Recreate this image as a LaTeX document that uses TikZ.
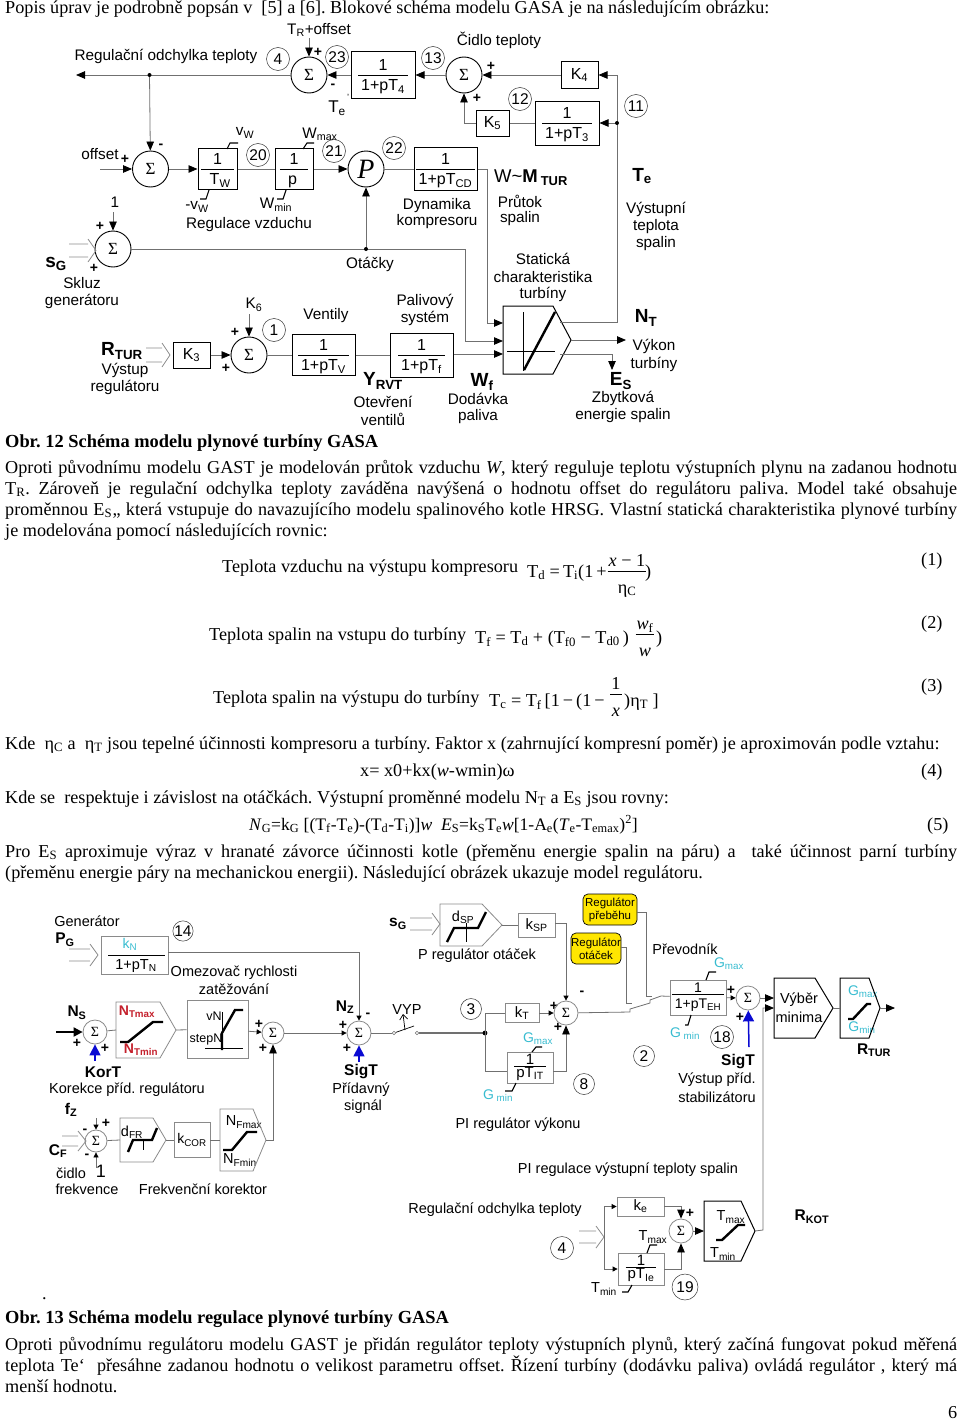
\documentclass[tikz,border=0pt]{standalone}
\usepackage{fontspec}
\setmainfont{Liberation Serif}
\setsansfont{Liberation Sans}
\usepackage{xcolor}
\usetikzlibrary{arrows.meta, positioning, calc}
\definecolor{wirecol}{HTML}{707070}
\definecolor{edgecol}{HTML}{8A8A8A}
\definecolor{cyanlab}{HTML}{38BCD0}
\definecolor{redlab}{HTML}{C4202C}
\definecolor{bluearr}{HTML}{0A0AD2}
\definecolor{yellowbg}{HTML}{FFE600}
\newcommand{\sbs}[1]{\textsubscript{#1}}
\newcommand{\frc}[2]{\begin{tabular}{@{\hspace{3pt}}c@{\hspace{3pt}}}\rule{0pt}{15.5pt}#1\\\hline\rule{0pt}{15.5pt}#2\end{tabular}}
\newcommand{\gfrc}[2]{\begin{tabular}{@{\hspace{3pt}}c@{\hspace{3pt}}}#1\\[-3pt]\hline\rule{0pt}{14pt}#2\end{tabular}}
\newcommand{\tfrc}[2]{\begin{tabular}{@{\hspace{2pt}}c@{\hspace{2pt}}}#1\\[-3pt]\hline\rule{0pt}{11pt}#2\end{tabular}}
\newcommand{\efrc}[2]{\begin{tabular}{@{\hspace{1pt}}c@{\hspace{1pt}}}#1\\[-2pt]\hline\rule{0pt}{22pt}#2\end{tabular}}
\newcommand{\openarr}[4]{\draw[oarr] (#1,#3) -- (#2,#3) (#1,#4) -- (#2,#4) (#2,#3-5) -- (#2+8,{(#3+#4)/2}) -- (#2,#4+5);}
\newcommand{\penta}[7]{\draw[#7] (#2,#5) -- (#3,#5) -- (#4,#6) -- (#3,2*#6-#5) -- (#2,2*#6-#5) -- cycle;
  \coordinate (#1w) at (#2,#6); \coordinate (#1e) at (#4,#6);}
\tikzstyle{conn}=[wirecol,line width=0.8pt]
\tikzstyle{arr}=[-{Stealth[inset=0pt,length=9pt,width=7.5pt,color=black]},wirecol,line width=0.8pt]
\tikzstyle{arrs}=[-{Stealth[inset=0pt,length=5pt,width=5pt,color=black]},wirecol,line width=0.8pt]
\tikzstyle{barr}=[-{Stealth[inset=0pt,length=11pt,width=11pt]},bluearr,line width=1.5pt]
\tikzstyle{oarr}=[edgecol,line width=0.8pt]
\tikzstyle{sat}=[black,line width=1.1pt]
\tikzstyle{thickln}=[black,line width=2.4pt]
\tikzstyle{sumnode}=[circle,draw=black,line width=0.9pt,minimum size=36pt,inner sep=0pt,font=\fontsize{17}{17}\selectfont]
\tikzstyle{sumsmall}=[circle,draw=edgecol,line width=0.8pt,minimum size=24pt,inner sep=0pt,font=\fontsize{14}{14}\selectfont]
\tikzstyle{numcirc}=[circle,draw=black!80,line width=0.5pt,minimum size=23pt,inner sep=0pt,font=\sffamily\fontsize{15.5}{16}\selectfont]
\tikzstyle{blk}=[draw=black,line width=1pt,inner sep=0pt,font=\sffamily\fontsize{16}{16}\selectfont]
\tikzstyle{blkg}=[draw=edgecol,line width=0.8pt,inner sep=0pt,font=\sffamily\fontsize{15}{16}\selectfont]
\tikzstyle{lab}=[inner sep=0pt,yshift=-1pt,font=\sffamily\fontsize{14.5}{16}\selectfont]
\tikzstyle{labu}=[inner sep=0pt,yshift=-1pt,font=\sffamily\fontsize{15.3}{16}\selectfont]
\tikzstyle{labs}=[inner sep=0pt,font=\sffamily\fontsize{12.5}{14}\selectfont]
\tikzstyle{boldlab}=[inner sep=0pt,font=\sffamily\bfseries\fontsize{19}{20}\selectfont]
\tikzstyle{boldlow}=[inner sep=0pt,font=\sffamily\bfseries\fontsize{15.5}{18}\selectfont]
\tikzstyle{cyanl}=[inner sep=0pt,text=cyanlab,font=\sffamily\fontsize{14}{16}\selectfont]
\tikzstyle{redl}=[inner sep=0pt,text=redlab,font=\sffamily\bfseries\fontsize{14}{16}\selectfont]
\tikzstyle{sgn}=[inner sep=0pt,font=\sffamily\bfseries\fontsize{14}{14}\selectfont]
\tikzstyle{regbox}=[draw=black,line width=0.7pt,fill=yellowbg,rounded corners=5pt,inner sep=0pt,align=center,font=\sffamily\fontsize{11.5}{13}\selectfont]
\tikzstyle{bodyln}=[anchor=base west,inner sep=0pt,font=\fontsize{18.2}{20}\selectfont]
\tikzstyle{capln}=[anchor=base west,inner sep=0pt,font=\bfseries\fontsize{18.4}{20}\selectfont]
\tikzstyle{eqfr}=[inner sep=0pt,font=\fontsize{18.2}{20}\selectfont]
\begin{document}
\frenchspacing
\begin{tikzpicture}[x=1pt,y=-1pt]
  \useasboundingbox (0,0) rectangle (960,1421);
  \foreach \nm/\x/\y/\t in {
    a/5/14/{Popis úprav je podrobně popsán v\ \ [5] a [6]. Blokové schéma modelu GASA je na následujícím obrázku:},
    b/222/572/{Teplota vzduchu na výstupu kompresoru},
    c/209/640/{Teplota spalin na vstupu do turbíny},
    d/213/703/{Teplota spalin na výstupu do turbíny},
    e/5/749/{Kde\ \ η\sbs{C} a\ \ η\sbs{T} jsou tepelné účinnosti kompresoru a turbíny. Faktor x (zahrnující kompresní poměr) je aproximován podle vztahu:},
    f/360/776/{x= x0+kx(\textit{w}-wmin)ω},
    g/5/803/{Kde se\ \ respektuje i závislost na otáčkách. Výstupní proměnné modelu N\sbs{T} a E\sbs{S} jsou rovny:},
    h/249/830/{\fontsize{17.6}{20}\selectfont\textit{N}\sbs{G}=k\sbs{G} [(T\sbs{f}-T\sbs{e})-(T\sbs{d}-T\sbs{i})]\textit{w}\ \ \textit{E}\sbs{S}=k\sbs{S}T\sbs{e}\textit{w}[1-A\sbs{e}(\textit{T}\sbs{e}-T\sbs{emax})\textsuperscript{2}]},
    i/5/878/{(přeměnu energie páry na mechanickou energii). Následující obrázek ukazuje model regulátoru.},
    j/5/1392/{menší hodnotu.},
    k/921/565/{(1)},
    l/921/628/{(2)},
    m/921/691/{(3)},
    n/921/776/{(4)},
    o/927/830/{(5)},
    p/948/1418/{6},
    q/42/1299/{.},
    eqa/527/577/{T\sbs{d}\ =\,T\sbs{i}(1\,+},
    eqb/645/577/{)},
    eqc/475/643/{T\sbs{f}\ =\ T\sbs{d}\ +\ (T\sbs{f0}\ −\ T\sbs{d0}\,)},
    eqd/656/643/{)},
    eqe/489/706/{T\sbs{c}\ =\ T\sbs{f}\,[1\,−\,(1\,−},
    eqf/624/706/{)η\sbs{T} ]}} {
    \node[bodyln] (txt\nm) at (\x,\y) {\t};
  }
  \foreach \nm/\y/\t in {
    a/473/{Oproti původnímu modelu GAST je modelován průtok vzduchu \textit{W}, který reguluje teplotu výstupních plynu na zadanou hodnotu},
    b/494/{T\sbs{R}. Zároveň je regulační odchylka teploty zaváděna navýšená o hodnotu offset do regulátoru paliva. Model také obsahuje},
    c/515/{proměnnou E\sbs{S}\hspace{0.5pt},, která vstupuje do navazujícího modelu spalinového kotle HRSG. Vlastní statická charakteristika plynové turbíny},
    d/857/{Pro E\sbs{S} aproximuje výraz v hranaté závorce účinnosti kotle (přeměnu energie spalin na páru) a\ \ také účinnost parní turbíny},
    e/1350/{Oproti původnímu regulátoru modelu GAST je přidán regulátor teploty výstupních plynů, který začíná fungovat pokud měřená},
    f/1371/{teplota Te‘\ \ přesáhne zadanou hodnotu o velikost parametru offset. Řízení turbíny (dodávku paliva) ovládá regulátor , který má}} {
    \node[bodyln] (par\nm) at (5,\y) {\makebox[952pt][s]{\t}};
  }
  \node[bodyln] (parg) at (5,536) {je modelována pomocí následujících rovnic:};
  \node[capln] (capa) at (5,447) {Obr. 12 Schéma modelu plynové turbíny GASA};
  \node[capln] (capb) at (5,1323) {Obr. 13 Schéma modelu regulace plynové turbíny GASA};
  \node[eqfr] (fra) at (627,576) {\efrc{\textit{x} − 1}{η\sbs{C}}};
  \node[eqfr] (frb) at (645,639) {\efrc{\textit{w}\sbs{f}}{\textit{w}}};
  \node[eqfr] (frc) at (616,699) {\efrc{1}{\textit{x}}};

  \node[sumnode] (s23) at (309,75) {Σ};
  \node[blk,minimum width=64pt,minimum height=46pt] (t4) at (383,75) {\frc{1}{1+pT\sbs{4}}};
  \node[sumnode] (s13) at (464,75) {Σ};
  \node[blk,minimum width=37pt,minimum height=27pt] (k4) at (579.5,75) {K\sbs{4}};
  \node[blk,minimum width=64pt,minimum height=44pt] (t3) at (567,123) {\frc{1}{1+pT\sbs{3}}};
  \node[blk,minimum width=33pt,minimum height=26pt] (k5) at (492.5,123) {K\sbs{5}};
  \node[sumnode] (soff) at (150.5,169) {Σ};
  \node[blk,minimum width=39pt,minimum height=41pt] (tw) at (217.5,169) {\frc{1}{\,\,T\sbs{W}}};
  \node[blk,minimum width=38pt,minimum height=41pt] (bp) at (294,169) {\frc{1}{\,\,p\,\,\,}};
  \node[circle,draw=black,line width=0.9pt,minimum size=36pt,inner sep=0pt,font=\itshape\fontsize{28}{28}\selectfont] (pp) at (366,169) {P};
  \node[blk,minimum width=63pt,minimum height=43pt] (tcd) at (445.5,169) {\frc{1}{1+pT\sbs{CD}}};
  \node[sumnode] (ssk) at (113,249) {Σ};
  \node[blk,minimum width=37pt,minimum height=26pt] (k3) at (191.5,355) {K\sbs{3}};
  \node[sumnode] (sk6) at (249,355) {Σ};
  \node[blk,minimum width=63pt,minimum height=41pt] (tv) at (323.5,355) {\frc{1}{1+pT\sbs{V}}};
  \node[blk,minimum width=63pt,minimum height=44pt] (tf) at (421.5,355) {\frc{1}{1+pT\sbs{f}}};
  \penta{tur}{503}{553}{571}{306}{340}{black,line width=1pt}
  \draw[black,line width=0.8pt] (523,312) -- (523,371) (507,351) -- (555,351);
  \draw[thickln] (524,370) -- (555,312);

  \coordinate (topout) at (76,75);
  \coordinate (dottop) at (149.5,75);
  \coordinate (dotte) at (617,123);
  \coordinate (tee) at (617,75);
  \coordinate (turte) at (560,322);
  \coordinate (turin) at (503,323);
  \coordinate (turn) at (503,341);
  \coordinate (turf) at (503,354);
  \coordinate (dotn) at (366,249);
  \coordinate (tures) at (560,354);
  \coordinate (eses) at (612,370);
  \coordinate (ntout) at (626,340);
  \coordinate (trin) at (309,38);
  \coordinate (offin) at (100,169);
  \coordinate (onein) at (113,212);
  \coordinate (k6in) at (249,314);
  \draw[arr] (s23) -- (topout);
  \draw[arr] (t4) -- (s23);
  \draw[arr] (s13) -- (t4);
  \draw[arr] (k4) -- (s13);
  \draw[arr] (trin) -- (s23);
  \draw[arr] (dottop) -- (soff);
  \fill (dottop) circle (2pt);
  \draw[arr] (offin) -- (soff);
  \draw[arr] (soff) -- (tw);
  \draw[conn] (tw) -- (bp);
  \draw[arr] (bp) -- (pp);
  \draw[conn] (pp) -- (tcd);
  \draw[arr] (turte) -| (tee) -- (k4);
  \draw[arr] (dotte) -- (t3);
  \fill (dotte) circle (2pt);
  \draw[conn] (t3) -- (k5);
  \draw[arr] (k5) -| (s13);
  \draw[arr] (tcd) -| (487,323) -- (turin);
  \draw[arr] (ssk) -| (465,341) -- (turn);
  \draw[arr] (dotn) -- (pp);
  \fill (dotn) circle (2pt);
  \draw[arr] (onein) -- (ssk);
  \draw[arr] (k3) -- (sk6);
  \draw[arr] (k6in) -- (sk6);
  \draw[conn] (sk6) -- (tv);
  \draw[conn] (tv) -- (tf);
  \draw[arr] (tf.east |- turf) -- (turf);
  \draw[arr] (ture) -- (ntout);
  \draw[arr] (tures) -| (eses);
  \openarr{69}{88}{244}{257}
  \openarr{146}{162}{348}{362}
  \draw[sat] (227,149) -- (230,143) -- (238,143);
  \draw[sat] (200,199) -- (206,199) -- (209,190);
  \draw[sat] (303,149) -- (307,143) -- (314,143);
  \draw[sat] (277,199) -- (283,199) -- (286,190);

  \foreach \nm/\x/\y in {4/278/59,23/337/57,13/433/58,12/520/99,11/636/106,20/258/155,21/334/151,22/394/148,1/274/330} {
    \node[numcirc] (c\nm) at (\x,\y) {\nm};
  }
  \foreach \nm/\x/\y/\t in {
    tr/319/29/T\sbs{R}+offset,
    reg/166/55/Regulační odchylka teploty,
    cid/499/39/Čidlo teploty,
    off/100/153/offset,
    one/115/201/1,
    vwm/197/206/-v\sbs{W},
    vw/245/132/v\sbs{W},
    wmax/320/133/W\sbs{max},
    wmin/276/204/W\sbs{min},
    rv/249/224/Regulace vzduchu,
    sk/82/282/Skluz,
    gen/82/300/generátoru,
    ota/370/263/Otáčky,
    dyn/437/205/Dynamika,
    kom/437/221/kompresoru,
    pru/520/200/Průtok,
    spa/520/218/spalin,
    vys/656/208/Výstupní,
    tep/656/226/teplota,
    spb/656/243/spalin,
    sta/543/258/Statická,
    cha/543/276/charakteristika,
    turb/543/293/turbíny,
    ksix/254/304/K\sbs{6},
    ven/326/315/Ventily,
    pal/425/300/Palivový,
    sys/425/317/systém,
    vyst/125/369/Výstup,
    rgl/125/386/regulátoru,
    ote/383/401/Otevření,
    vnt/383/418/ventilů,
    dod/478/398/Dodávka,
    pav/478/416/paliva,
    zby/623/397/Zbytková,
    ene/623/415/energie spalin,
    vyk/654/345/Výkon,
    tuc/654/363/turbíny} {
    \node[labu] (lab\nm) at (\x,\y) {\t};
  }
  \foreach \nm/\x/\y/\t in {
    gnt/87/920/Generátor,
    ome/234/972/Omezovač rychlosti,
    zat/234/988/zatěžování,
    kore/127/1089/Korekce příd. regulátoru,
    pri/361/1089/Přídavný,
    sig/363/1106/signál,
    cdl/71/1172/čidlo,
    fre/87/1188/frekvence,
    fko/203/1188/Frekvenční korektor,
    preg/477/955/P regulátor otáček,
    pi/518/1124/PI regulátor výkonu,
    pis/628/1169/PI regulace výstupní teploty spalin,
    prv/685/948/Převodník,
    vyp/717/1079/Výstup příd.,
    stb/717/1096/stabilizátoru,
    vyb/799/999/Výběr,
    mnm/799/1016/minima,
    rod/495/1209/Regulační odchylka teploty,
    kvyp/407/1008/VYP,
    nfa/244/1121/N\sbs{Fmax},
    nfb/240/1159/N\sbs{Fmin},
    dfr/132/1131/d\sbs{FR},
    dsp/463/916/d\sbs{SP},
    tma/653/1236/T\sbs{max},
    tmb/604/1288/T\sbs{min},
    tmc/731/1216/T\sbs{max},
    tmd/723/1253/T\sbs{min}} {
    \node[lab] (lab\nm) at (\x,\y) {\t};
  }
  \node[labs] (labvn) at (214,1016) {vN};
  \node[labs] (labstp) at (206,1039) {stepN};
  \node[lab,font=\sffamily\fontsize{18}{18}\selectfont] (labone) at (101,1170) {1};
  \node[lab,font=\sffamily\fontsize{17}{18}\selectfont] (labte) at (337,107) {T\sbs{e}};
  \node[lab,font=\sffamily\fontsize{9}{9}\selectfont] (labtq) at (348,96) {'};
  \foreach \nm/\x/\y/\t in {
    sg/56/264/s\sbs{G},
    rtur/122/351/R\sbs{TUR},
    yrvt/383/381/Y\sbs{RVT},
    wf/482/382/W\sbs{f},
    es/621/381/E\sbs{S},
    nt/646/318/N\sbs{T},
    te/642/176/T\sbs{e}} {
    \node[boldlab] (bl\nm) at (\x,\y) {\t};
  }
  \foreach \nm/\x/\y/\t in {
    pg/65/940/P\sbs{G},
    ns/77/1013/N\sbs{S},
    kort/103/1072/KorT,
    fz/71/1110/f\sbs{Z},
    cf/58/1151/C\sbs{F},
    nz/345/1007/N\sbs{Z},
    sigt/361/1072/SigT,
    sgb/398/924/s\sbs{G},
    sigb/738/1062/SigT,
    rtb/874/1050/R\sbs{TUR},
    rkot/812/1217/R\sbs{KOT}} {
    \node[boldlow] (bl\nm) at (\x,\y) {\t};
  }
  \node[lab,font=\sffamily\fontsize{18.5}{18}\selectfont] (labmt) at (531,177) {W\textasciitilde\textbf{M}\,\textbf{\sbs{TUR}}};
  \foreach \nm/\x/\y/\t in {a/318/52/+,b/491/66/+,c/477/98/+,d/125/159/+,e/100/226/+,f/94/268/+,g/235/332/+,h/226/368/+,i/333/86/-,j/161/146/-,
    k/77/1043/+,l/105/1048/+,m/259/1024/+,n/263/1048/+,o/343/1025/+,p/347/1048/+,q/368/1015/-,r/106/1123/+,s/85/1131/-,t/87/1156/-,
    u/554/1006/+,v/558/1027/+,w/582/993/-,x/731/990/+,y/740/1017/+,z/690/1213/+} {
    \node[sgn] (sg\nm) at (\x,\y) {\t};
  }

  \node[blkg,minimum width=67pt,minimum height=38pt] (kn) at (134.5,955) {};
  \node[inner sep=0pt,text=cyanlab,font=\sffamily\fontsize{14}{16}\selectfont] (knup) at (130,944) {k\sbs{N}};
  \node[inner sep=0pt,font=\sffamily\fontsize{14.5}{16}\selectfont] (kndn) at (136,966) {1+pT\sbs{N}};
  \draw[black,line width=0.6pt] (108,955) -- (165,955);
  \node[numcirc,minimum size=20pt] (c14) at (183,931) {14};
  \node[sumsmall] (sns) at (95,1032) {Σ};
  \penta{nts}{116}{160}{176}{1002}{1030}{edgecol,line width=0.8pt}
  \node[redl] (lntmax) at (137,1012) {N\sbs{Tmax}};
  \node[redl] (lntmin) at (141,1050) {N\sbs{Tmin}};
  \draw[thickln] (120,1042) -- (128,1042) -- (153,1022) -- (163,1022);
  \node[blkg,minimum width=61pt,minimum height=58pt] (rate) at (217.5,1029) {};
  \draw[black,line width=0.7pt] (205,1048) -- (243,1048) (222,1012) -- (222,1049);
  \draw[thickln] (222,1050) -- (222,1033) -- (235,1010) -- (243,1010);
  \node[sumsmall,minimum size=22pt] (s3) at (273,1033) {Σ};
  \node[sumsmall] (snz) at (359,1033) {Σ};
  \node[sumsmall,minimum size=22pt] (sfz) at (96,1141) {Σ};
  \penta{dfb}{120}{153}{166}{1118}{1140}{edgecol,line width=0.8pt}
  \draw[black,line width=0.7pt] (143,1140) -- (143,1150);
  \draw[thickln] (128,1152) -- (133,1140) -- (152,1140) -- (157,1128);
  \node[blkg,minimum width=36pt,minimum height=35pt,font=\sffamily\fontsize{14}{16}\selectfont] (kcor) at (192,1140) {k\sbs{COR}};
  \penta{nfb}{220}{253}{266}{1109}{1140}{edgecol,line width=0.8pt}
  \draw[thickln] (223,1150) -- (232,1150) -- (247,1132) -- (257,1132);
  \coordinate (knout) at (168,952);
  \coordinate (nsin) at (56,1032);
  \coordinate (ksigin) at (95,1061);
  \coordinate (szin) at (359,1062);
  \coordinate (fzin) at (96,1118);
  \coordinate (onefz) at (96,1168);
  \draw[arrs] (knout) -| (snz);
  \draw[-{Stealth[inset=0pt,length=9pt,width=9pt]},black,line width=2pt] (nsin) -- (sns);
  \draw[barr] (ksigin) -- (sns);
  \draw[barr] (szin) -- (snz);
  \draw[conn] (sns) -- (ntsw);
  \draw[conn] (ntse) -- (rate);
  \draw[arrs] (rate) -- (s3);
  \draw[arrs] (s3) -- (snz);
  \draw[arr] (nfbe) -| (s3);
  \draw[arrs] (fzin) -- (sfz);
  \draw[arrs] (onefz) -- (sfz);
  \draw[conn] (sfz) -- (dfbw);
  \draw[conn] (dfbe) -- (kcor);
  \draw[conn] (kcor) -- (nfbw);
  \openarr{69}{90}{949}{961}
  \openarr{62}{78}{1136}{1146}

  \coordinate (swa) at (394,1033);
  \coordinate (swb) at (417,1033);
  \node[circle,draw=wirecol,line width=0.5pt,minimum size=3.5pt,inner sep=0pt] (swl) at (swa) {};
  \node[circle,draw=wirecol,line width=0.5pt,minimum size=3.5pt,inner sep=0pt] (swr) at (swb) {};
  \coordinate (dotpi) at (485,1033);
  \draw[conn] (snz) -- (swl);
  \draw[black,line width=0.7pt] (swl) -- (414,1026);
  \draw[-{Straight Barb[length=5pt,width=8pt]},black,line width=0.7pt] (405,1030) -- (403,1014);
  \draw[wirecol,line width=1.2pt] (swr) -- (dotpi);
  \fill (dotpi) circle (2.4pt);
  \penta{dsp}{440}{482}{502}{904}{925}{edgecol,line width=0.8pt}
  \draw[black,line width=0.7pt] (466,923) -- (466,942);
  \draw[thickln] (447,942) -- (454,928) -- (478,928) -- (486,912);
  \node[blkg,minimum width=37pt,minimum height=24pt] (ksp) at (536.5,925) {k\sbs{SP}};
  \node[sumsmall] (sm) at (566,1013) {Σ};
  \node[blkg,minimum width=34pt,minimum height=19pt] (kt) at (522,1013) {k\sbs{T}};
  \node[blkg,minimum width=46pt,minimum height=31pt] (pit) at (530,1067.5) {\tfrc{1}{pT\sbs{IT}}};
  \node[regbox,minimum width=54pt,minimum height=31pt] (regpr) at (610,909.5) {Regulátor\\přeběhu};
  \node[regbox,minimum width=50pt,minimum height=31pt] (regot) at (596,948.5) {Regulátor\\otáček};
  \node[blkg,minimum width=56pt,minimum height=35pt,font=\sffamily\fontsize{14}{16}\selectfont] (teh) at (698,997.5) {\gfrc{1}{1+pT\sbs{EH}}};
  \node[sumsmall] (sf) at (748,998) {Σ};
  \coordinate (swc) at (630,1012);
  \coordinate (swd) at (630,1009);
  \coordinate (swe) at (650,1003);
  \coordinate (swf) at (650,1000);
  \coordinate (swg) at (661,996);
  \coordinate (kspout) at (555,923);
  \coordinate (prin) at (652,996);
  \coordinate (otin) at (632,1003);
  \coordinate (prrow) at (0,912);
  \coordinate (otrow) at (0,947);
  \coordinate (pirow) at (0,1071);
  \draw[conn] (dspe) -- (ksp);
  \draw[arrs] (kspout) -| (sm);
  \draw[conn] (sm) -- (swc) -- (swd) -- (swe) -- (swf) -- (swg) -- (teh);
  \draw[conn] (regpr.east |- prrow) -| (646,996) -- (prin);
  \draw[conn] (regot.east |- otrow) -| (626,1003) -- (otin);
  \draw[conn] (dotpi) |- (kt);
  \draw[arrs] (kt) -- (sm);
  \draw[conn] (dotpi) |- (pit.west |- pirow);
  \draw[arr] (pit.east |- pirow) -| (sm);
  \draw[arrs] (teh) -- (sf);
  \draw[barr] (749,1047) -- (sf);
  \openarr{410}{432}{918}{930}
  \draw[sat] (532,1052) -- (536,1047) -- (542,1047);
  \draw[sat] (505,1091) -- (512,1091) -- (516,1083);
  \draw[sat] (706,980) -- (709,972) -- (716,972);
  \draw[sat] (685,1025) -- (688,1025) -- (691,1015);
  \foreach \nm/\x/\y in {3/471/1009,8/584/1084,2/644/1056} {
    \node[numcirc,minimum size=21pt] (c\nm) at (\x,\y) {\nm};
  }
  \node[numcirc] (c18) at (722,1037) {18};
  \foreach \nm/\x/\y/\t in {a/538/1039/G\sbs{max},b/498/1096/G\sbs{ min},c/729/964/G\sbs{max},d/685/1034/G\sbs{ min},e/863/992/G\sbs{max},f/862/1028/G\sbs{min}} {
    \node[cyanl] (gl\nm) at (\x,\y) {\t};
  }

  \penta{vyb}{774}{815}{833}{978}{1008}{black,line width=1pt}
  \penta{lim}{840}{869}{880}{978}{1008}{black,line width=1pt}
  \draw[thickln] (848,1019) -- (853,1019) -- (867,1004) -- (871,1004);
  \coordinate (vybu) at (774,998);
  \coordinate (vybd) at (774,1008);
  \coordinate (limout) at (895,1008);
  \draw[arr] (sf) -- (vybu);
  \draw[conn] (vybe) -- (limw);
  \draw[arr] (lime) -- (limout);

  \node[blkg,minimum width=47pt,minimum height=19pt] (ke) at (640.5,1206.5) {k\sbs{e}};
  \node[blkg,minimum width=46pt,minimum height=32pt] (pte) at (641,1269) {\tfrc{1}{pT\sbs{Ie}}};
  \node[sumsmall] (sg4) at (681,1231) {Σ};
  \penta{tmx}{704}{741}{755}{1201}{1231}{black,line width=1pt}
  \draw[thickln] (716,1240) -- (722,1240) -- (738,1225) -- (745,1225);
  \node[numcirc] (c4b) at (562,1248) {4};
  \node[numcirc,minimum size=26pt] (c19) at (685,1287) {19};
  \coordinate (spl) at (604,1237);
  \openarr{579}{596}{1231}{1243}
  \draw[arrs] (spl) |- (ke);
  \draw[arrs] (spl) |- (pte);
  \draw[arr] (ke) -| (sg4);
  \draw[arr] (pte) -| (sg4);
  \draw[arr] (sg4) -- (tmxw);
  \draw[arr] (tmxe) -- (763,1230) |- (vybd);
  \draw[sat] (647,1253) -- (650,1245) -- (657,1245);
  \draw[sat] (622,1292) -- (628,1292) -- (632,1285);
\end{tikzpicture}
\end{document}
